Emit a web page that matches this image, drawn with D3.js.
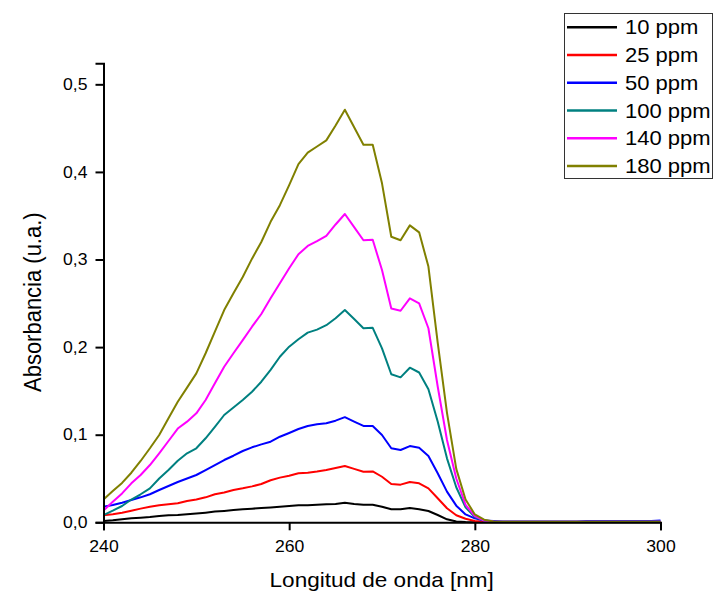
<!DOCTYPE html>
<html>
<head>
<meta charset="utf-8">
<script src="https://cdn.jsdelivr.net/npm/d3@7"></script>
<style>
  body { margin: 0; background: #fff; }
  svg { display: block; font-family: Arial, "Liberation Sans", sans-serif; }
</style>
</head>
<body>
<script>
// wavelength (nm)
const wavelengths = [240,241,242,243,244,245,246,247,248,249,250,251,252,253,254,255,256,257,258,259,
  260,261,262,263,264,265,266,267,268,269,270,271,272,273,274,275,276,277,278,279,
  280,281,282,283,284,285,286,287,288,289,290,291,292,293,294,295,296,297,298,299,300];

const labels = ["10 ppm", "25 ppm", "50 ppm", "100 ppm", "140 ppm", "180 ppm"];
const colors = ["#000000", "#ff0000", "#0000ff", "#008080", "#ff00ff", "#808000"];

const ppm10 = [0.0015,0.0023,0.0034,0.0045,0.0053,0.006,0.0072,0.008,0.0083,0.0091,
  0.010,0.011,0.0122,0.013,0.014,0.015,0.0156,0.0163,0.017,0.0178,
  0.0186,0.0194,0.0194,0.020,0.0205,0.021,0.0224,0.021,0.020,0.020,
  0.0178,0.0148,0.0148,0.0163,0.015,0.0129,0.0083,0.0034,0.001,0.0003,
  0,0,0,0,0,0,0,0,0,0,0,0,0,0,0,0,0,0,0,0,0];
const ppm25 = [0.008,0.0091,0.011,0.0133,0.0156,0.0178,0.0194,0.0205,0.0217,0.0243,
  0.026,0.0285,0.032,0.034,0.0369,0.0388,0.041,0.0437,0.048,0.051,
  0.0532,0.056,0.0566,0.058,0.0597,0.062,0.0643,0.061,0.0578,0.058,
  0.052,0.0437,0.043,0.046,0.0445,0.0388,0.0274,0.016,0.008,0.004,
  0.0015,0.0005,0.0003,0.0003,0.0003,0.0003,0.0003,0.0003,0.0003,0.0003,
  0.0003,0.0003,0.0003,0.0003,0.0003,0.0003,0.0003,0.0003,0.0003,0.0003,0.0003];
const ppm50 = [0.0178,0.0197,0.0224,0.0255,0.0285,0.032,0.0369,0.0414,0.046,0.050,
  0.054,0.0597,0.0654,0.0711,0.076,0.0814,0.0856,0.089,0.092,0.0977,
  0.102,0.1065,0.110,0.112,0.113,0.116,0.120,0.115,0.110,0.110,
  0.0997,0.0845,0.0825,0.087,0.085,0.0757,0.056,0.035,0.019,0.009,
  0.0045,0.002,0.0015,0.001,0.001,0.001,0.001,0.001,0.001,0.001,
  0.001,0.001,0.0015,0.0015,0.0015,0.0015,0.0015,0.0015,0.0015,0.0015,0.002];
const ppm100 = [0.0083,0.0133,0.0186,0.026,0.032,0.0388,0.050,0.0597,0.0703,0.0788,
  0.0845,0.0959,0.109,0.1225,0.131,0.1396,0.149,0.1605,0.174,0.189,
  0.2005,0.209,0.2165,0.220,0.225,0.233,0.2423,0.232,0.2215,0.222,
  0.1986,0.169,0.1655,0.1765,0.171,0.152,0.115,0.073,0.040,0.017,
  0.006,0.002,0.001,0.0005,0.0005,0.0005,0.0005,0.0005,0.0005,0.0005,
  0.0005,0.0005,0.0005,0.0005,0.0005,0.0005,0.0005,0.0005,0.0005,0.0005,0.0005];
const ppm140 = [0.0133,0.0235,0.033,0.0445,0.054,0.0654,0.0788,0.0928,0.107,0.1149,
  0.1244,0.1396,0.1587,0.1776,0.193,0.208,0.2233,0.2378,0.2557,0.273,
  0.290,0.306,0.3155,0.321,0.327,0.34,0.352,0.337,0.322,0.3225,
  0.288,0.244,0.2415,0.2557,0.25,0.2215,0.155,0.094,0.050,0.020,
  0.007,0.002,0.001,0.0005,0.0005,0.0005,0.0005,0.0005,0.0005,0.0005,
  0.0005,0.0005,0.0005,0.0005,0.0005,0.0005,0.0005,0.0005,0.0005,0.0005,0.0005];
const ppm180 = [0.026,0.0357,0.045,0.0566,0.070,0.0845,0.0997,0.1187,0.1377,0.1537,
  0.170,0.193,0.2176,0.2423,0.2614,0.280,0.301,0.320,0.343,0.362,
  0.385,0.409,0.422,0.429,0.436,0.453,0.471,0.451,0.431,0.431,
  0.387,0.326,0.322,0.339,0.331,0.292,0.205,0.125,0.061,0.026,
  0.009,0.003,0.001,0.0005,0.0005,0.0005,0.0005,0.0005,0.0005,0.0005,
  0.0005,0.0005,0.0005,0.0005,0.0005,0.0005,0.0005,0.0005,0.0005,0.0005,0.0005];

const series = [ppm10, ppm25, ppm50, ppm100, ppm140, ppm180];

const xMajor = [240, 260, 280, 300];
const xMinor = [250, 270, 290];
const yMajor = [0, 0.1, 0.2, 0.3, 0.4, 0.5];
const yMinor = [0.05, 0.15, 0.25, 0.35, 0.45];

let width = 715, height = 592;
const SX = 1.1; // text in the original is a bit wide

let svg = d3.select("body").append("svg").attr("width", width).attr("height", height);

let x = d3.scaleLinear().domain([240, 300]).range([103.5, 660.5]);
let y = d3.scaleLinear().domain([0, 0.524]).range([522.3, 63.3]);

let fmt = d => d3.format(".1f")(d).replace(".", ",");

// lines
let line = d3.line().x((d, i) => x(wavelengths[i])).y(d => y(d));
svg.append("g").selectAll("path").data(series).join("path")
    .attr("d", line)
    .attr("fill", "none")
    .attr("stroke", (d, i) => colors[i])
    .attr("stroke-width", 2)
    .attr("stroke-linejoin", "round");

// x axis
let gx = svg.append("g").attr("transform", "translate(0," + y(0) + ")");
gx.call(d3.axisBottom(x).tickValues(xMinor).tickSize(4).tickFormat(""));
gx.call(d3.axisBottom(x).tickValues(xMajor).tickSize(8).tickPadding(10).tickFormat(d3.format("d")));

// y axis
let gy = svg.append("g").attr("transform", "translate(" + x(240) + ",0)");
gy.call(d3.axisLeft(y).tickValues(yMinor).tickSize(4).tickFormat(""));
gy.call(d3.axisLeft(y).tickValues(yMajor).tickSize(8).tickFormat(fmt));

svg.selectAll(".domain").attr("stroke", "#000").attr("stroke-width", 2);
svg.selectAll(".tick line").attr("stroke", "#000").attr("stroke-width", 2);
svg.selectAll(".tick text").attr("font-size", 16).attr("font-family", "Arial, 'Liberation Sans', sans-serif").attr("fill", "#000");
gx.selectAll(".tick text").attr("transform", "scale(" + SX + ",1)");
gy.selectAll(".tick text").attr("x", -16 / SX).attr("transform", "scale(" + SX + ",1)");

// axis titles
svg.append("g").attr("transform", "translate(381.7,586.7) scale(" + SX + ",1)")
    .append("text").attr("text-anchor", "middle").attr("font-size", 20.5).text("Longitud de onda [nm]");
svg.append("g").attr("transform", "translate(41,392) rotate(-90) scale(1," + SX + ")")
    .append("text").attr("text-anchor", "start").attr("font-size", 22).text("Absorbancia (u.a.)");

// legend
let lg = svg.append("g");
lg.append("rect").attr("x", 564.5).attr("y", 13.5).attr("width", 148).attr("height", 165)
    .attr("fill", "#fff").attr("stroke", "#333").attr("stroke-width", 1);
let rows = lg.selectAll("g.row").data(labels).join("g").attr("class", "row")
    .attr("transform", (d, i) => "translate(0," + (27.3 + i * 27.74) + ")");
rows.append("line").attr("x1", 567).attr("x2", 617).attr("y1", 0).attr("y2", 0)
    .attr("stroke", (d, i) => colors[i]).attr("stroke-width", 2.5);
rows.append("g").attr("transform", "translate(625,0) scale(" + SX + ",1)")
    .append("text").attr("dy", "0.35em").attr("font-size", 20).text(d => d);
</script>
</body>
</html>
